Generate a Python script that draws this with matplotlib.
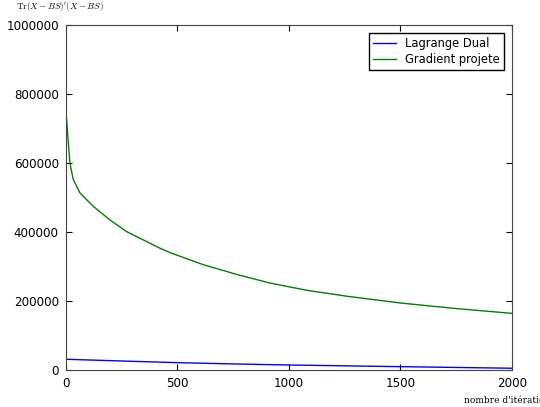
import numpy as np
import matplotlib
matplotlib.use("Agg")
import matplotlib.pyplot as plt

plt.rcParams['mathtext.fontset'] = 'cm'

# Lagrange Dual (blue)
iter_dual = [0, 250, 500, 750, 1000, 1250, 1500, 1750, 2000]
cost_dual = [31000, 26000, 21200, 17500, 14400, 12000, 9600, 7300, 5000]

# Gradient projete (green)
iter_grad = [0, 5, 10, 18, 33, 63, 123, 197, 272, 421, 467, 616, 765, 914, 1079,
             1256, 1500, 1749, 2000]
cost_grad = [755000, 710000, 667000, 600000, 552000, 513000, 474000, 435000, 401000,
             353000, 340000, 305000, 277000, 252000, 231000, 214000, 194000, 178000,
             164000]

xticks = [0, 500, 1000, 1500, 2000]
yticks = [0, 200000, 400000, 600000, 800000, 1000000]

fig = plt.figure(figsize=(5.4, 4.07), dpi=100)
ax = fig.add_axes([0.122, 0.091, 0.826, 0.848])

ax.plot(iter_dual, cost_dual, color='b', lw=1, label='Lagrange Dual')
ax.plot(iter_grad, cost_grad, color='g', lw=1, label='Gradient projete')

ax.set_xlim(0, 2000)
ax.set_ylim(0, 1000000)
ax.set_xticks(xticks)
ax.set_yticks(yticks)
ax.ticklabel_format(style='plain', useOffset=False)
ax.tick_params(direction='in', top=True, right=True, labelsize=8.6, length=4, pad=5)
for s in ax.spines.values():
    s.set_color('#444444')

ax.set_ylabel(r"$\mathrm{Tr}(X-BS)'(X-BS)$", rotation=0, fontsize=6.5)
ax.yaxis.set_label_coords(-0.013, 1.035)
ax.set_xlabel(r"nombre d'itérations", family='serif', fontsize=6.5)
ax.xaxis.set_label_coords(0.995, -0.075)

leg = ax.legend(loc='upper right', fancybox=False, fontsize=8.3, handlelength=2.0,
                borderaxespad=0.7, borderpad=0.35, labelspacing=0.3, framealpha=1)
leg.get_frame().set_edgecolor('black')

fig.savefig('out.png', dpi=100, facecolor='white')
